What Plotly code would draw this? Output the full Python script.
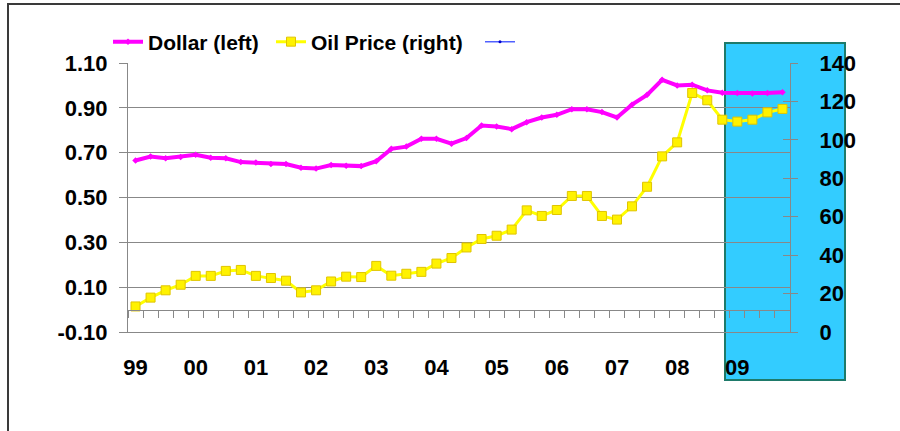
import plotly.graph_objects as go

# ---- data (quarterly, 1999Q1 .. 2009Q4) ----
dollar = [0.665, 0.683, 0.675, 0.681, 0.691, 0.677, 0.675, 0.658, 0.656, 0.650, 0.649,
          0.633, 0.629, 0.645, 0.642, 0.640, 0.662, 0.717, 0.727, 0.762, 0.762, 0.740,
          0.765, 0.821, 0.817, 0.805, 0.836, 0.857, 0.869, 0.894, 0.894, 0.881, 0.857,
          0.914, 0.958, 1.025, 1.000, 1.003, 0.978, 0.967, 0.966, 0.964, 0.966, 0.970]
oil = [13.3, 17.9, 21.7, 24.6, 29.2, 29.2, 31.8, 32.3, 29.2, 28.1, 26.7,
       20.6, 21.7, 26.3, 28.8, 28.6, 34.4, 29.3, 30.3, 31.3, 35.6, 38.5,
       44.0, 48.4, 50.1, 53.3, 63.3, 60.4, 63.5, 70.8, 70.8, 60.4, 58.5,
       65.4, 75.6, 91.4, 98.7, 124.4, 120.6, 110.5, 109.5, 110.5, 114.3, 116.1]
year_labels = ["99", "00", "01", "02", "03", "04", "05", "06", "07", "08", "09"]
left_ticks = [-0.10, 0.10, 0.30, 0.50, 0.70, 0.90, 1.10]
right_ticks = [0, 20, 40, 60, 80, 100, 120, 140]

x = list(range(len(dollar)))
year_pos = [i * 4 for i in range(len(year_labels))]
n = len(dollar)

FAM = "Liberation Sans, Arial, sans-serif"
FONT = dict(family=FAM, size=22, color="black", weight="bold")
LFONT = dict(family=FAM, size=21, color="black", weight="bold")
GRID = "#888888"

# plot area in pixels
W, H = 900, 431
L, R, T, B = 128, 790, 63, 332


def px_x(p):
    return (p - L) / (R - L)


def px_y(p):
    return (B - p) / (B - T)


fig = go.Figure()
fig.add_trace(go.Scatter(
    x=x, y=dollar, name="Dollar (left)", mode="lines+markers", legend="legend",
    line=dict(color="#FF00FF", width=4), marker=dict(color="#FF00FF", size=5, symbol="diamond"),
    xaxis="x", yaxis="y"))
fig.add_trace(go.Scatter(
    x=x, y=oil, name="Oil Price (right)", mode="lines+markers", legend="legend2",
    line=dict(color="#FFFF00", width=3),
    marker=dict(color="#FFF200", size=9, symbol="square", line=dict(color="#E0C400", width=1)),
    xaxis="x", yaxis="y2"))
fig.add_trace(go.Scatter(
    x=[None], y=[None], name=" ", mode="lines+markers", legend="legend3",
    line=dict(color="#5060FF", width=1.5), marker=dict(color="#0000CC", size=3),
    xaxis="x", yaxis="y"))
# helper trace for the interior category axis and crossing ticks
fig.add_trace(go.Scatter(x=[None], y=[None], showlegend=False, hoverinfo="skip",
                         xaxis="x2", yaxis="y3"))


def leg(px):
    return dict(orientation="h", x=px_x(px), xanchor="left", y=px_y(42), yanchor="middle",
                font=LFONT, bgcolor="rgba(0,0,0,0)", borderwidth=0)


fig.update_layout(
    width=W, height=H,
    margin=dict(l=L, r=W - R, t=T, b=H - B, pad=0),
    paper_bgcolor="white", plot_bgcolor="white",
    font=FONT,
    showlegend=True,
    legend=leg(108), legend2=leg(271), legend3=leg(480),
    xaxis=dict(range=[-0.5, n - 0.5], tickmode="array", tickvals=year_pos, ticktext=year_labels,
               showgrid=False, zeroline=False, showline=True, linecolor=GRID, linewidth=1,
               ticks="", ticklabelstandoff=16, tickfont=FONT),
    xaxis2=dict(range=[-0.5, n - 0.5], overlaying="x", anchor="free", position=px_y(309.8),
                side="bottom", tickmode="array", tickvals=[i - 0.5 for i in range(n + 1)],
                showticklabels=False, ticks="outside", ticklen=7, tickcolor=GRID, tickwidth=1,
                showline=True, linecolor=GRID, linewidth=1, showgrid=False, zeroline=False),
    yaxis=dict(range=[-0.10, 1.10], tickmode="array", tickvals=left_ticks,
               ticktext=[f"{v:.2f}" for v in left_ticks],
               showgrid=True, gridcolor=GRID, gridwidth=1, zeroline=False,
               showline=True, linecolor=GRID, linewidth=1,
               ticks="outside", ticklen=8, tickcolor=GRID, ticklabelstandoff=7, tickfont=FONT),
    yaxis2=dict(range=[0, 140], overlaying="y", side="right", tickmode="array", tickvals=right_ticks,
                showgrid=False, zeroline=False, showline=True, linecolor=GRID, linewidth=1,
                ticks="outside", ticklen=7, tickcolor=GRID, ticklabelstandoff=17, tickfont=FONT),
    yaxis3=dict(range=[0, 140], overlaying="y", side="right", tickmode="array", tickvals=right_ticks,
                showticklabels=False, showgrid=False, zeroline=False, showline=False,
                ticks="inside", ticklen=7, tickcolor=GRID),
    shapes=[
        dict(type="rect", xref="paper", yref="paper", layer="below",
             x0=px_x(725), x1=px_x(845), y0=px_y(380), y1=px_y(43),
             fillcolor="#33CCFF", line=dict(color="#1E7A6A", width=2)),
        dict(type="rect", xref="paper", yref="paper", layer="below",
             x0=px_x(8), x1=px_x(910), y0=px_y(445), y1=px_y(4),
             fillcolor="rgba(0,0,0,0)", line=dict(color="#3a3a3a", width=2)),
    ],
)

fig.write_html("out.html", config={"displayModeBar": False},
               post_script="document.body.style.margin='0';document.body.style.overflow='hidden';")
